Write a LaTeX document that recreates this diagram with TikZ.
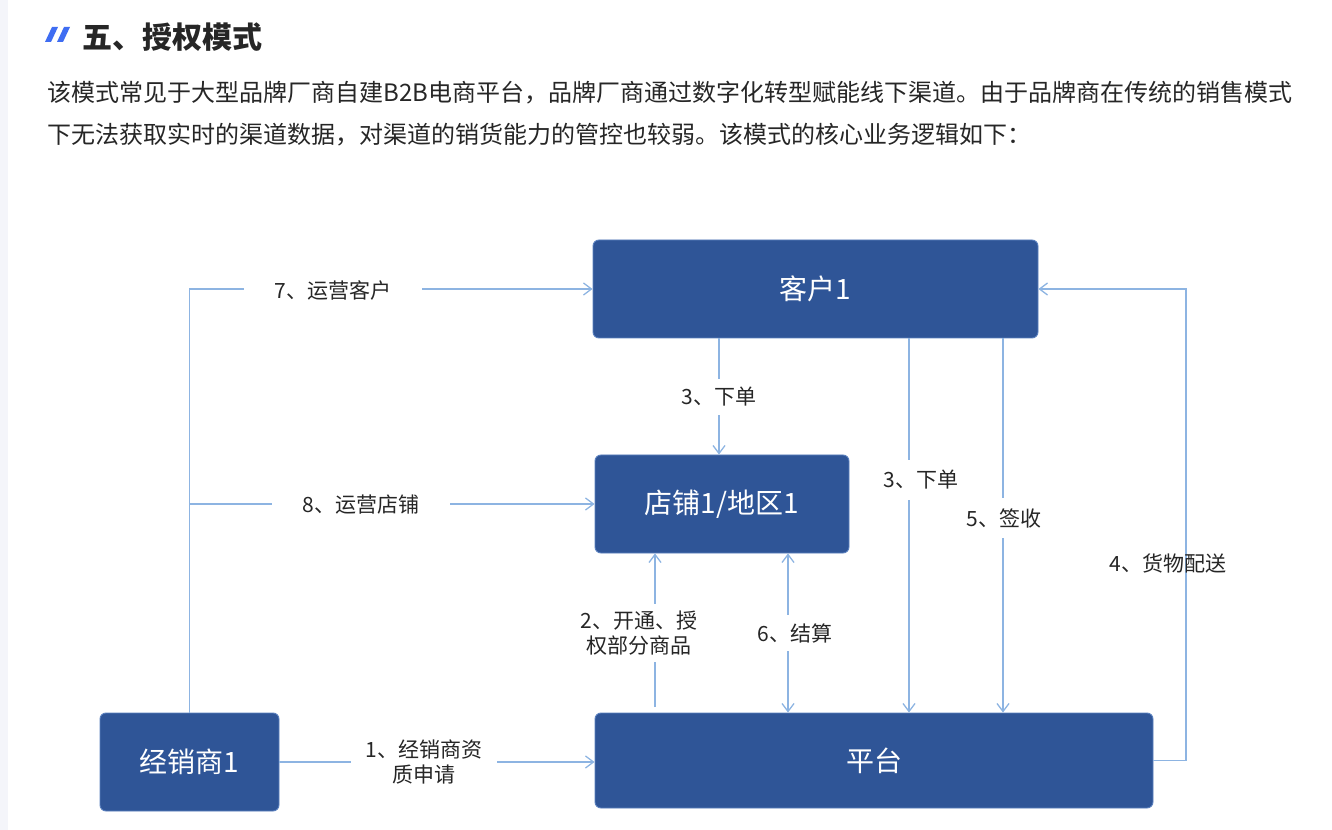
\documentclass[tikz,border=0pt]{standalone}
\usepackage{fontspec}
\setmainfont{Noto Sans CJK SC}
\usetikzlibrary{arrows.meta}
\definecolor{boxblue}{HTML}{2F5597}
\definecolor{boxborder}{HTML}{5A80BE}
\definecolor{lineblue}{HTML}{8DB4E2}
\definecolor{txt}{HTML}{262626}
\definecolor{icon}{HTML}{3F6DF2}
\definecolor{strip}{HTML}{F4F5FA}
\tikzset{
  box/.style={draw=boxborder, line width=0.7pt, fill=boxblue, rounded corners=4.5pt,
    text=white, inner sep=0pt, font=\fontsize{21}{25}\selectfont},
  conn/.style={draw=lineblue, line width=0.95pt, -{Straight Barb[length=6pt,width=9pt]}},
  dconn/.style={draw=lineblue, line width=0.95pt, {Straight Barb[length=6pt,width=9pt]}-{Straight Barb[length=6pt,width=9pt]}},
  plain/.style={draw=lineblue, line width=0.95pt},
  lbl/.style={fill=white, text=txt, align=center, font=\fontsize{15.75}{18.75}\selectfont},
  bodytext/.style={anchor=west, inner sep=0pt, text=txt, font=\fontsize{18}{24}\selectfont}
}
\begin{document}
\begin{tikzpicture}[x=0.75pt,y=-0.75pt]
\useasboundingbox (0,0) rectangle (1332,830);
\fill[white] (0,0) rectangle (1332,830);
\fill[strip] (0,0) rectangle (8,830);
% header icon
\fill[icon] (45,42) -- (51,42) -- (58,27) -- (52,27) -- cycle;
\fill[icon] (57,42) -- (63,42) -- (70,27) -- (64,27) -- cycle;
\node[anchor=west, inner sep=0pt, text=txt, font=\fontsize{22.5}{27}\selectfont\bfseries] (title) at (82,37) {五、授权模式};
\node[bodytext] (line1) at (47,93) {该模式常见于大型品牌厂商自建B2B电商平台，品牌厂商通过数字化转型赋能线下渠道。由于品牌商在传统的销售模式};
\node[bodytext] (line2) at (47,135) {下无法获取实时的渠道数据，对渠道的销货能力的管控也较弱。该模式的核心业务逻辑如下：};

% boxes
\node[box, minimum width=333.75pt, minimum height=73.5pt] (cust) at (815.5,289) {客户1};
\node[box, minimum width=190.5pt, minimum height=73.5pt] (shop) at (722,504) {店铺1/地区1};
\node[box, minimum width=418.5pt, minimum height=71.25pt] (plat) at (874,760.5) {平台};
\node[box, minimum width=134.25pt, minimum height=73.5pt] (dist) at (189.5,762) {经销商1};

% helper coordinates
\coordinate (x3) at (719,0);
\coordinate (x2) at (655,0);
\coordinate (x6) at (788,0);
\coordinate (x3r) at (909,0);
\coordinate (x5) at (1003,0);
\coordinate (x4) at (1186,0);
\coordinate (br) at (dist.north |- shop.west);

% connectors
\draw[conn] (dist.north) |- (cust.west);
\draw[conn] (br) -- (shop.west);
\draw[conn] (dist.east) -- (dist.east -| plat.west);
\draw[conn] (x3 |- cust.south) -- (x3 |- shop.north);
\draw[conn] ([yshift=4pt]x2 |- plat.north) -- (x2 |- shop.south);
\draw[dconn] (x6 |- shop.south) -- (x6 |- plat.north);
\draw[conn] (x3r |- cust.south) -- (x3r |- plat.north);
\draw[conn] (x5 |- cust.south) -- (x5 |- plat.north);
\draw[conn] (plat.east) -| (x4 |- cust.east) -- (cust.east);

% labels
\node[lbl, inner xsep=23pt] (l7) at (333,290) {7、运营客户};
\node[lbl, inner xsep=23pt] (l8) at (361,505) {8、运营店铺};
\node[lbl, inner xsep=11pt, inner ysep=1pt] (l1) at (424,762) {1、经销商资\\质申请};
\node[lbl, inner ysep=6pt] (l3) at (719,397) {3、下单};
\node[lbl, inner ysep=5pt] (l2) at (639,633) {2、开通、授\\权部分商品};
\node[lbl, inner ysep=6pt] (l6) at (795,633) {6、结算};
\node[lbl, inner ysep=8pt] (l3r) at (921,480) {3、下单};
\node[lbl, inner ysep=8pt] (l5) at (1004,518) {5、签收};
\node[lbl, fill=none] (l4) at (1168,563) {4、货物配送};
\end{tikzpicture}
\end{document}
